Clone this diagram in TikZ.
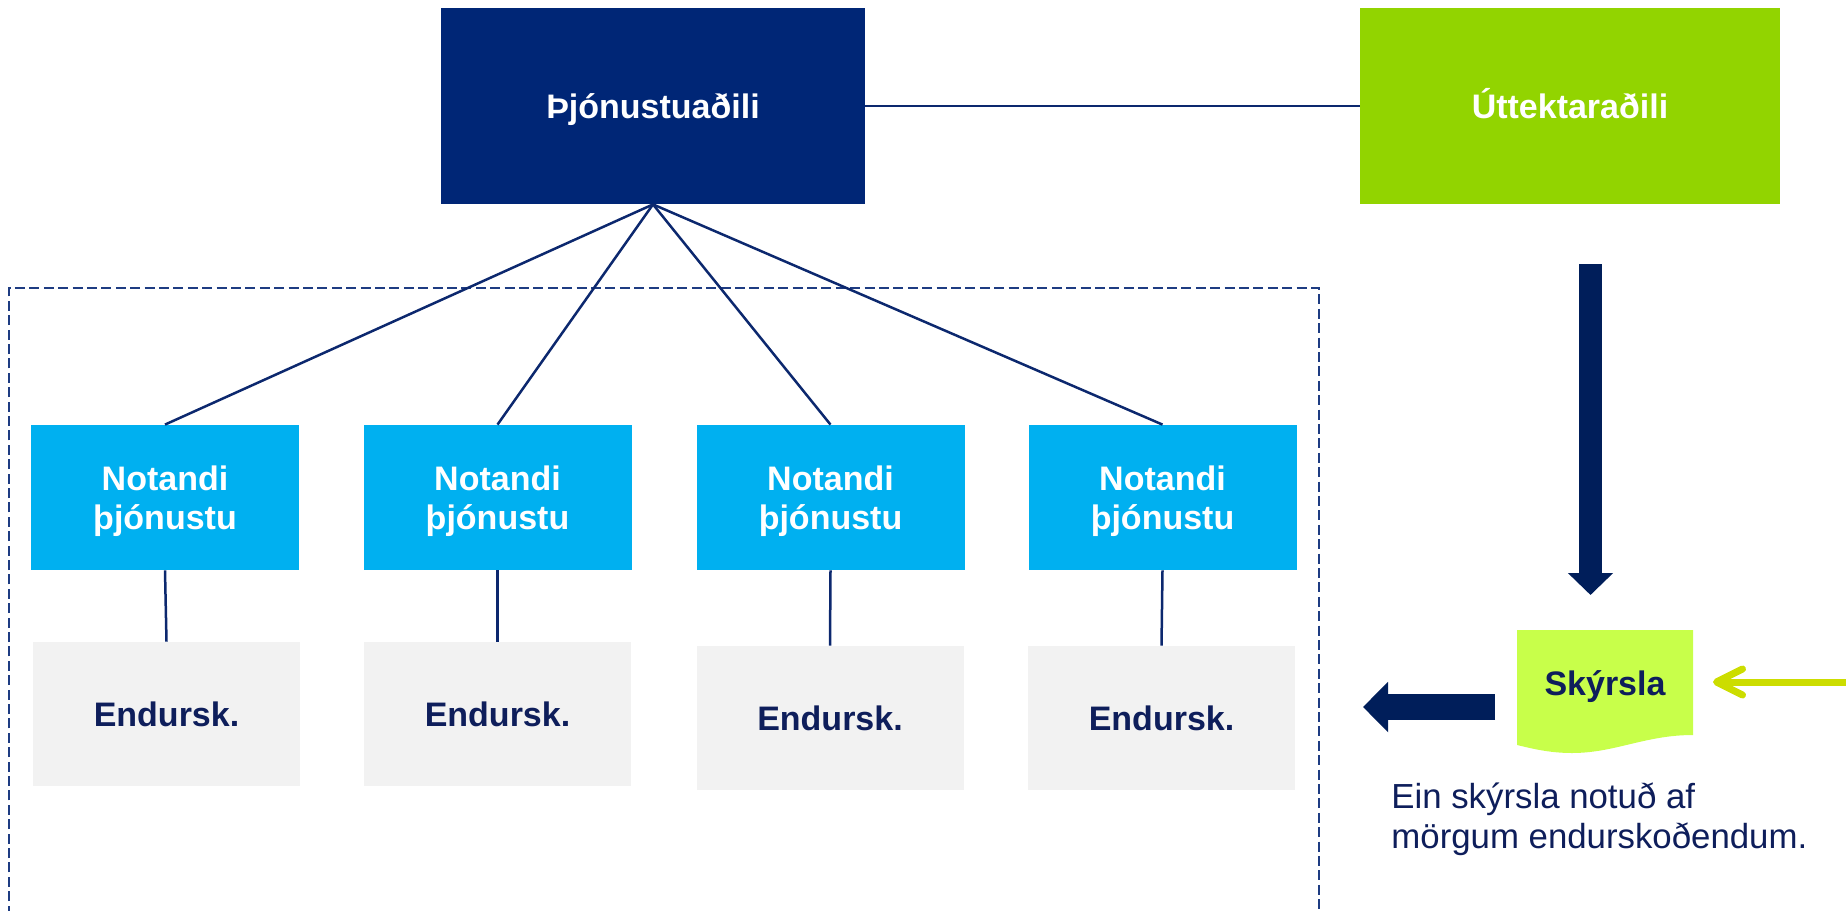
\documentclass[tikz,border=0pt]{standalone}
\usepackage{fontspec}
\setmainfont{Liberation Sans}
\usetikzlibrary{arrows.meta}
\definecolor{topnavy}{RGB}{0,38,118}
\definecolor{uttgreen}{RGB}{146,212,0}
\definecolor{notblue}{RGB}{0,176,240}
\definecolor{endgray}{RGB}{242,242,242}
\definecolor{docgreen}{RGB}{200,255,74}
\definecolor{arrnavy}{RGB}{0,30,90}
\definecolor{linenavy}{RGB}{12,40,110}
\definecolor{dashnavy}{RGB}{30,60,130}
\definecolor{yelarrow}{RGB}{204,221,0}
\definecolor{textnavy}{RGB}{14,30,91}
\tikzset{
  boxfont/.style={font=\fontsize{17pt}{19.5pt}\selectfont\bfseries},
  oneline/.style={text height=12.2pt, text depth=0pt},
  topbox/.style={rectangle, fill=#1, text=white, boxfont, oneline,
     minimum height=98pt, inner sep=0pt},
  notbox/.style={rectangle, fill=notblue, text=white, boxfont,
     text height=31.7pt, text depth=0pt,
     minimum width=134pt, minimum height=72.5pt, inner sep=0pt, align=center},
  endbox/.style={rectangle, fill=endgray, text=textnavy, boxfont, oneline,
     minimum width=133.5pt, minimum height=72pt, inner sep=0pt},
  conn/.style={draw=linenavy, line width=1.25pt},
  fatarrow/.style={draw=arrnavy, line width=#1},
}
\begin{document}
\begin{tikzpicture}[x=0.5pt, y=-0.5pt]
\path[use as bounding box] (0,0) rectangle (1846,910);
\clip (0,0) rectangle (1846,910);
% dashed region
\draw[dashnavy, line width=1pt, dash pattern=on 5pt off 2.2pt] (9,930) -- (9,288) -- (1319,288) -- (1319,930);
% top boxes
\node[topbox=topnavy, minimum width=212pt] (svc) at (653,106) {Þjónustuaðili};
\node[topbox=uttgreen, minimum width=210pt] (utt) at (1570,106) {Úttektaraðili};
\draw[conn] (svc.east) -- (utt.west);
% user boxes
\node[notbox] (n1) at (165,497.5) {Notandi\\þjónustu};
\node[notbox] (n2) at (497.5,497.5) {Notandi\\þjónustu};
\node[notbox] (n3) at (830.5,497.5) {Notandi\\þjónustu};
\node[notbox] (n4) at (1162.5,497.5) {Notandi\\þjónustu};
% auditor boxes
\node[endbox] (e1) at (166.5,714) {Endursk.};
\node[endbox] (e2) at (497.5,714) {Endursk.};
\node[endbox] (e3) at (830,718) {Endursk.};
\node[endbox] (e4) at (1161.5,718) {Endursk.};
\foreach \i in {1,2,3,4}{
  \draw[conn] (svc.south) -- (n\i.north);
  \draw[conn] (n\i.south) -- (e\i.north);
}
% report document
\path[fill=docgreen] (1517,630) -- (1693,630) -- (1693,735)
   .. controls (1645,735) and (1615,753) .. (1572,753)
   .. controls (1548,753) and (1530,748) .. (1517,745) -- cycle;
\node[text=textnavy, boxfont, oneline] (sky) at (1605,683) {Skýrsla};
% arrows
\coordinate (dA) at (1590.5,264);
\coordinate (dB) at (1590.5,595);
\draw[fatarrow=11.5pt, -{Triangle[length=11pt,width=22pt]}] (dA) -- (dB);
\coordinate (lA) at (1495,707);
\coordinate (lB) at (1363,707);
\draw[fatarrow=13pt, -{Triangle[length=12.5pt,width=24.5pt]}] (lA) -- (lB);
\coordinate (yA) at (1850,682);
\coordinate (yB) at (1713,682);
\draw[yelarrow, line width=3.5pt, line cap=round, -{Straight Barb[length=13pt,width=13pt,round]}] (yA) -- (yB);
% caption
\node[anchor=base west, inner sep=0pt, align=left, text=textnavy,
      font=\fontsize{17.4pt}{20pt}\selectfont] (cap) at (1391,848)
      {Ein skýrsla notuð af\\mörgum endurskoðendum.};
\end{tikzpicture}
\end{document}
